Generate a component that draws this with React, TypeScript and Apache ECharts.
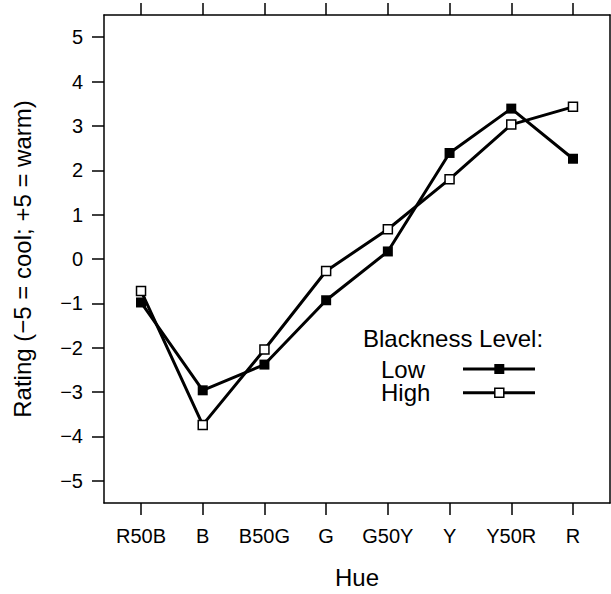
import React, { useEffect, useRef } from "react";
import * as echarts from "echarts";

// Hue categories along the x axis
const categories = ["R50B", "B", "B50G", "G", "G50Y", "Y", "Y50R", "R"];
// Mean warmth ratings for each blackness level
const lowValues = [-0.98, -2.96, -2.38, -0.93, 0.17, 2.39, 3.39, 2.26];
const highValues = [-0.72, -3.74, -2.04, -0.27, 0.67, 1.8, 3.03, 3.43];
// Tick positions
const xTicks = categories.map((_, i) => i);
const yTicks = [-5, -4, -3, -2, -1, 0, 1, 2, 3, 4, 5];

const FONT = "Liberation Sans, Arial, Helvetica, sans-serif";
const BLACK = "#000";

const fmtNum = (v: number) => (v < 0 ? "\u2212" + Math.abs(v) : String(v));

export default function App() {
  const ref = useRef<HTMLDivElement>(null);

  useEffect(() => {
    if (!ref.current) return;
    const chart = echarts.init(ref.current, null, { renderer: "svg" });

    const axisLine = { show: true, onZero: false, lineStyle: { color: BLACK, width: 1.5 } };
    const tickStyle = { color: BLACK, width: 1.5 };
    const legendText = (text: string, x: number, y: number) => ({
      type: "text",
      x,
      y,
      style: {
        text,
        fontSize: 24,
        lineHeight: 22,
        fontFamily: FONT,
        fill: BLACK,
        verticalAlign: "middle",
      },
    });

    chart.setOption({
      animation: false,
      backgroundColor: "#fff",
      textStyle: { fontFamily: FONT, color: BLACK },
      grid: { left: 104, top: 15, right: 1, bottom: 88, containLabel: false },
      xAxis: [
        {
          type: "value",
          position: "bottom",
          min: -0.6,
          max: 7.6,
          axisLine,
          splitLine: { show: false },
          axisTick: { show: true, length: 12, customValues: xTicks, lineStyle: tickStyle },
          axisLabel: {
            customValues: xTicks,
            formatter: (v: number) => categories[Math.round(v)] ?? "",
            fontSize: 20,
            fontFamily: FONT,
            color: BLACK,
            margin: 23,
          },
          name: "Hue",
          nameLocation: "middle",
          nameGap: 62,
          nameTextStyle: { fontSize: 24, fontFamily: FONT, color: BLACK },
        },
        {
          type: "value",
          position: "top",
          min: -0.6,
          max: 7.6,
          axisLine,
          splitLine: { show: false },
          axisTick: { show: true, length: 12, customValues: xTicks, lineStyle: tickStyle },
          axisLabel: { show: false },
        },
      ],
      yAxis: [
        {
          type: "value",
          position: "left",
          min: -5.5,
          max: 5.5,
          axisLine,
          splitLine: { show: false },
          axisTick: { show: true, length: 12, customValues: yTicks, lineStyle: tickStyle },
          axisLabel: {
            customValues: yTicks,
            formatter: fmtNum,
            fontSize: 20,
            fontFamily: FONT,
            color: BLACK,
            margin: 21,
          },
          name: "Rating (\u22125 = cool; +5 = warm)",
          nameLocation: "middle",
          nameGap: 70,
          nameTextStyle: { fontSize: 24, fontFamily: FONT, color: BLACK },
        },
        {
          type: "value",
          position: "right",
          min: -5.5,
          max: 5.5,
          axisLine,
          splitLine: { show: false },
          axisTick: { show: false },
          axisLabel: { show: false },
        },
      ],
      series: [
        {
          name: "Low",
          type: "line",
          xAxisIndex: 0,
          yAxisIndex: 0,
          data: lowValues.map((v, i) => [i, v]),
          symbol: "rect",
          symbolSize: 10,
          showAllSymbol: true,
          lineStyle: { color: BLACK, width: 3 },
          itemStyle: { color: BLACK, borderWidth: 0 },
          z: 2,
        },
        {
          name: "High",
          type: "line",
          xAxisIndex: 0,
          yAxisIndex: 0,
          data: highValues.map((v, i) => [i, v]),
          symbol: "rect",
          symbolSize: 9,
          showAllSymbol: true,
          lineStyle: { color: BLACK, width: 3 },
          itemStyle: { color: "#fff", borderColor: BLACK, borderWidth: 1.5 },
          z: 3,
        },
      ],
      graphic: [
        legendText("Blackness Level:", 363, 338.5),
        legendText("Low", 381, 369),
        legendText("High", 381, 392.7),
        {
          type: "line",
          shape: { x1: 463, y1: 369, x2: 535, y2: 369 },
          style: { stroke: BLACK, lineWidth: 3 },
        },
        {
          type: "rect",
          shape: { x: 494.3, y: 364, width: 10, height: 10 },
          style: { fill: BLACK },
        },
        {
          type: "line",
          shape: { x1: 463, y1: 392.7, x2: 535, y2: 392.7 },
          style: { stroke: BLACK, lineWidth: 3 },
        },
        {
          type: "rect",
          shape: { x: 494.8, y: 388.2, width: 9, height: 9 },
          style: { fill: "#fff", stroke: BLACK, lineWidth: 1.5 },
          z: 10,
        },
      ],
    });

    return () => chart.dispose();
  }, []);

  return (
    <div
      ref={ref}
      style={{ position: "fixed", left: 0, top: 0, width: 611, height: 594, background: "#fff" }}
    />
  );
}
